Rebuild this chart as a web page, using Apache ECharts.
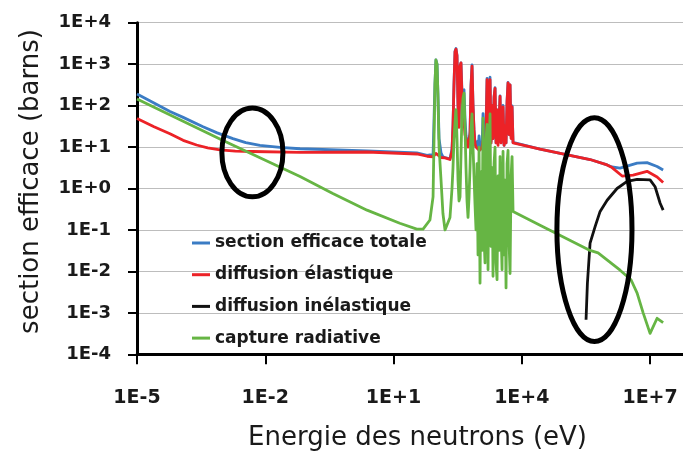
<!DOCTYPE html>
<html><head><meta charset="utf-8">
<script src="https://cdn.jsdelivr.net/npm/echarts@6/dist/echarts.min.js"></script>
<style>html,body{margin:0;padding:0;background:#fff}#c{width:683px;height:457px}</style>
</head><body><div id="c"></div>
<script>
// ---- data (energy in eV, cross-section in barns) ----
const seriesNames = ['section efficace totale', 'diffusion élastique', 'diffusion inélastique', 'capture radiative'];
const xTickLabels = ['1E-5', '1E-2', '1E+1', '1E+4', '1E+7'];
const yTickLabels = ['1E-4', '1E-3', '1E-2', '1E-1', '1E+0', '1E+1', '1E+2', '1E+3', '1E+4'];

const totalE = [
  1e-5, 2.5e-5, 5.9e-5, 1.2e-4, 3.5e-4, 7.5e-4, 1.75e-3, 3.5e-3, 7.5e-3, 0.022, 0.065, 2.4, 35, 61,
  71, 84, 93, 98, 104, 109, 116, 129, 143, 160, 209,
  233, 246, 259, 274, 289, 305, 322, 340, 359, 378, 399, 421, 445, 469, 495, 523, 552, 582, 615, 649, 685, 722, 762, 805, 849,
  897, 946, 1000, 1054, 1112, 1175, 1239, 1309, 1380, 1456, 1538, 1622, 1714, 1807, 1906, 2014, 2123, 2244, 2366, 2495, 2636, 2780, 2938, 3097, 3266, 3451, 3639, 3846, 4055, 4276, 4519, 4764, 5035, 5309, 5610, 5916, 6237,
  26700, 3.95e5, 9.9e5, 1.29e6, 1.99e6, 4.98e6, 8.5e6, 1.46e7, 2.02e7];
const totalS = [
  190, 115, 72, 52, 31, 22, 16, 12.8, 11, 9.8, 9.1, 8.1, 7.2, 6.3,
  6.5, 6.4, 320, 1260, 1005, 206, 16, 7.2, 5.8, 5.6, 5.2,
  9, 35, 315, 2040, 2380, 1620, 102, 30.5, 890, 1076, 223, 210, 240, 50, 19, 13, 10.2, 15, 23, 325, 953, 110, 27, 12, 10.1,
  13.5, 8.9, 18.7, 8.5, 11.5, 10, 64, 9.6, 12.6, 36, 455, 16, 206, 483, 12.6, 100, 16, 164, 270, 12.6, 79, 13, 40, 172, 12.7, 63, 101, 11, 32, 12.6, 130, 363, 20, 316, 18, 99, 12.9,
  8.9, 5.0, 3.7, 3.3, 3.1, 4.1, 4.2, 3.4, 2.8];

const elasticE = [
  1e-5, 2.5e-5, 5.9e-5, 1.2e-4, 2.47e-4, 4.5e-4, 8.7e-4, 2e-3, 5.1e-3, 0.065, 2.4, 35, 61,
  84, 98, 129, 160, 209,
  233, 246, 259, 274, 289, 305, 322, 340, 359, 378, 399, 421, 445, 469, 495, 523, 552, 582, 615, 649, 685, 722, 762, 805, 849,
  897, 946, 1000, 1054, 1112, 1175, 1239, 1309, 1380, 1456, 1538, 1622, 1714, 1807, 1906, 2014, 2123, 2244, 2366, 2495, 2636, 2780, 2938, 3097, 3266, 3451, 3639, 3846, 4055, 4276, 4519, 4764, 5035, 5309, 5610, 5916, 6237,
  26700, 3.95e5, 9.9e5, 1.29e6, 2.22e6, 4.01e6, 8.5e6, 1.46e7, 2.02e7];
const elasticS = [
  49, 31, 21, 14.5, 11.2, 9.6, 8.5, 8.0, 7.8, 7.4, 7.6, 6.8, 6.0,
  5.8, 7.0, 5.6, 5.5, 5.0,
  8, 32, 300, 2000, 2300, 1600, 100, 30, 890, 1070, 160, 60, 40, 20, 16, 12, 10, 14, 20, 300, 890, 100, 25, 12, 10,
  9.3, 8.9, 8.7, 8.5, 8.9, 10, 14, 9.5, 12.6, 20, 420, 16, 200, 420, 12.6, 100, 16, 160, 260, 12.6, 79, 11, 40, 166, 12.6, 63, 93, 11, 32, 12.6, 126, 355, 20, 316, 16, 93, 12.6,
  8.9, 5.0, 3.7, 3.2, 2.0, 2.1, 2.6, 1.9, 1.4];

const inelasticE = [3.18e5, 3.42e5, 3.95e5, 5.18e5, 6.78e5, 9.9e5, 1.69e6, 2.90e6, 4.98e6, 1.0e7, 1.31e7, 1.72e7, 2.02e7];
const inelasticS = [6.8e-4, 5.1e-3, 0.048, 0.12, 0.28, 0.52, 1.0, 1.48, 1.66, 1.62, 1.1, 0.44, 0.30];

const captureE = [
  1e-5, 1e-3, 0.065, 0.38, 2.4, 14, 35, 49, 71, 84,
  93, 98, 104, 109, 116, 129, 143, 160, 209,
  233, 246, 259, 274, 289, 305, 322, 340, 359, 378, 399, 421, 445, 469, 495, 523, 552, 582, 615, 649, 685, 722, 762, 805, 849,
  897, 946, 1000, 1054, 1112, 1175, 1239, 1309, 1380, 1456, 1538, 1622, 1714, 1807, 1906, 2014, 2123, 2244, 2366, 2495, 2636, 2780, 2938, 3097, 3266, 3451, 3639, 3846, 4055, 4276, 4519, 4764, 5035, 5309, 5610, 5916, 6237,
  26700, 3.95e5, 6.08e5, 1.99e6, 3.58e6, 4.98e6, 6.89e6, 1.0e7, 1.46e7, 2.02e7];
const captureS = [
  145, 14.5, 1.95, 0.76, 0.30, 0.145, 0.105, 0.105, 0.174, 0.63,
  316, 1260, 1000, 200, 10, 1.6, 0.25, 0.1, 0.2,
  1.0, 3.2, 15, 40, 80, 16, 1.6, 0.5, 0.63, 6.3, 63, 150, 200, 30, 3.2, 0.5, 0.2, 0.6, 3.2, 25, 63, 10, 2, 0.4, 0.1,
  4.0, 0.025, 10, 0.0052, 2.5, 0.032, 50, 0.063, 0.016, 16, 35, 0.011, 6.3, 63, 0.04, 3.2, 0.0076, 4.0, 10, 0.016, 0.0063, 2.0, 0.032, 5.9, 0.1, 0.011, 7.9, 0.025, 1.6, 0.004, 4.0, 8.3, 0.05, 0.0089, 2.0, 5.9, 0.28,
  0.13, 0.032, 0.028, 0.0107, 0.0063, 0.003, 0.001, 3.2e-4, 7.4e-4, 5.8e-4];

// annotation ellipses (centre energy eV, centre barns, half-width and half-height in decades)
const ellipseNotes = [
  { e: 5.0e-3, s: 7.4, wDec: 0.714, hDec: 1.07 },
  { e: 5.0e5, s: 0.102, wDec: 0.878, hDec: 2.70 }
];

// ---- chart ----
const X_REF = 1e-5; // energy at left edge of the axis
const toX = e => Math.log10(e / X_REF);
const pts = (E, S) => E.map((e, i) => [toX(e), Math.log10(S[i])]);

const colors = ['#3b7cc4', '#ec2227', '#111111', '#66b544'];
const labelFont = { fontFamily: 'DejaVu Sans', fontWeight: 'bold', color: '#1a1a1a' };

const chart = echarts.init(document.getElementById('c'), null, { renderer: 'canvas' });

function mkSeries(name, E, S, color) {
  return {
    name, type: 'line', data: pts(E, S), showSymbol: false, symbol: 'none',
    smooth: false, color, lineStyle: { width: 2.8, color, join: 'round' }, animation: false
  };
}

chart.setOption({
  animation: false,
  grid: { left: 137, right: 0, top: 22.7, bottom: 102.7, containLabel: false },
  legend: {
    orient: 'vertical', left: 187, top: 228, itemWidth: 18, itemHeight: 3, itemGap: 11.7,
    icon: 'rect', data: seriesNames,
    textStyle: Object.assign({ fontSize: 17, lineHeight: 20 }, labelFont)
  },
  xAxis: {
    type: 'value', min: 0, max: 12.77, interval: 3,
    axisLine: { onZero: false, lineStyle: { color: '#000', width: 3 } },
    axisTick: { length: 10, lineStyle: { color: '#000', width: 2 } },
    splitLine: { show: false },
    axisLabel: Object.assign({
      margin: 34, fontSize: 19, showMaxLabel: false,
      formatter: v => {
        const i = Math.round(v / 3);
        return Math.abs(v - i * 3) < 1e-6 && xTickLabels[i] ? xTickLabels[i] : '';
      }
    }, labelFont),
    name: 'Energie des neutrons (eV)', nameLocation: 'middle', nameGap: 71,
    nameTextStyle: { fontFamily: 'DejaVu Sans', fontSize: 26, color: '#1a1a1a', padding: [0, 0, 0, 15] }
  },
  yAxis: {
    type: 'value', min: -4, max: 4, interval: 1,
    axisLine: { show: true, onZero: false, lineStyle: { color: '#000', width: 3 } },
    axisTick: { show: true, length: 9, lineStyle: { color: '#000', width: 2 } },
    splitLine: { show: true, lineStyle: { color: '#bdbdbd', width: 1 } },
    axisLabel: Object.assign({
      margin: 26, fontSize: 18,
      formatter: v => yTickLabels[Math.round(v) + 4] || ''
    }, labelFont),
    name: 'section efficace (barns)', nameLocation: 'middle', nameGap: 93, nameRotate: 90,
    nameTextStyle: { fontFamily: 'DejaVu Sans', fontSize: 26, color: '#1a1a1a', padding: [0, 0, 0, 14] }
  },
  series: [
    mkSeries(seriesNames[0], totalE, totalS, colors[0]),
    mkSeries(seriesNames[1], elasticE, elasticS, colors[1]),
    mkSeries(seriesNames[2], inelasticE, inelasticS, colors[2]),
    mkSeries(seriesNames[3], captureE, captureS, colors[3])
  ]
});

const ell = ellipseNotes.map(n => {
  const x = toX(n.e), y = Math.log10(n.s);
  const c = chart.convertToPixel({ gridIndex: 0 }, [x, y]);
  const r = chart.convertToPixel({ gridIndex: 0 }, [x + n.wDec, y + n.hDec]);
  return {
    type: 'ellipse', z: 100,
    shape: { cx: c[0], cy: c[1], rx: Math.abs(r[0] - c[0]), ry: Math.abs(r[1] - c[1]) },
    style: { fill: null, stroke: '#000', lineWidth: 5 }
  };
});
chart.setOption({ graphic: { elements: ell } });
</script></body></html>
